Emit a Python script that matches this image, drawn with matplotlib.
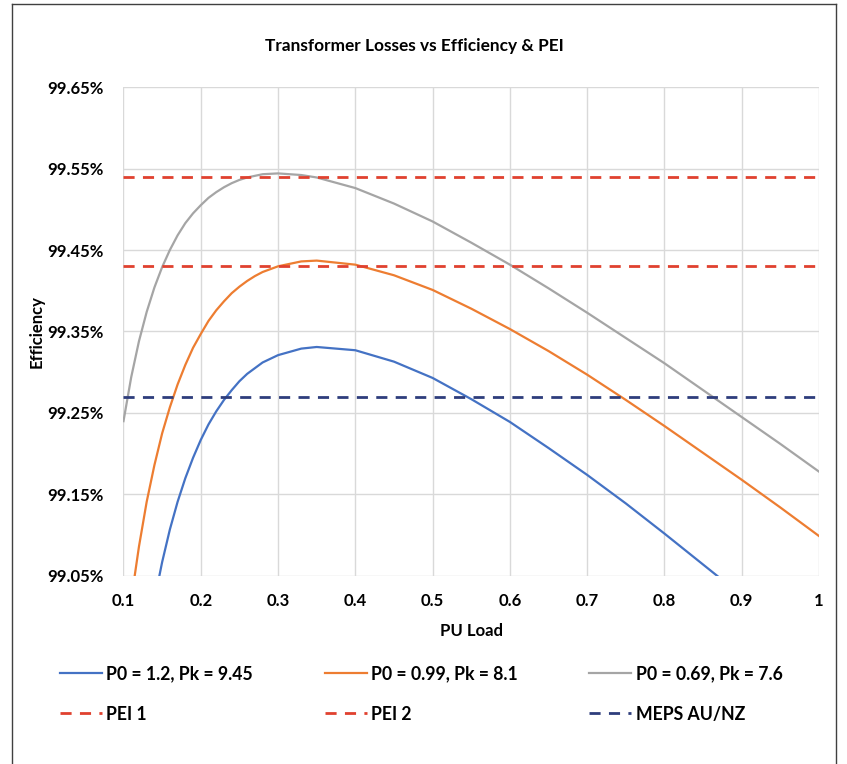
import matplotlib
matplotlib.use("Agg")
import matplotlib.pyplot as plt
from matplotlib.lines import Line2D
from matplotlib.ticker import FuncFormatter

plt.rcParams['font.family'] = ['Lato', 'DejaVu Sans']
plt.rcParams['font.weight'] = 'bold'

# PU load points
load = [0.10, 0.11, 0.12, 0.13, 0.14, 0.15, 0.16, 0.17, 0.18, 0.19, 0.20, 0.21, 0.22,
        0.23, 0.24, 0.25, 0.26, 0.27, 0.28, 0.30, 0.33, 0.35, 0.40, 0.45, 0.50, 0.55,
        0.60, 0.65, 0.70, 0.75, 0.80, 0.85, 0.90, 0.95, 1.00]

# efficiency (%) for each transformer
eff_a = [98.722, 98.819, 98.899, 98.965, 99.020, 99.067, 99.107, 99.141, 99.170, 99.195,
         99.217, 99.236, 99.252, 99.266, 99.278, 99.289, 99.298, 99.305, 99.312, 99.321,
         99.329, 99.331, 99.327, 99.313, 99.293, 99.267, 99.239, 99.207, 99.174, 99.139,
         99.102, 99.064, 99.026, 98.986, 98.946]
eff_b = [98.940, 99.021, 99.086, 99.141, 99.186, 99.225, 99.257, 99.285, 99.309, 99.330,
         99.347, 99.363, 99.376, 99.387, 99.397, 99.405, 99.412, 99.418, 99.423, 99.430,
         99.436, 99.437, 99.432, 99.419, 99.401, 99.378, 99.353, 99.326, 99.297, 99.266,
         99.234, 99.201, 99.168, 99.134, 99.099]
eff_c = [99.240, 99.294, 99.338, 99.374, 99.404, 99.429, 99.450, 99.468, 99.483, 99.495,
         99.505, 99.514, 99.521, 99.527, 99.532, 99.536, 99.539, 99.541, 99.543, 99.544,
         99.542, 99.539, 99.526, 99.507, 99.485, 99.459, 99.432, 99.403, 99.373, 99.342,
         99.311, 99.278, 99.245, 99.212, 99.178]

labels = ["P0 = 1.2, Pk = 9.45", "P0 = 0.99, Pk = 8.1", "P0 = 0.69, Pk = 7.6"]

# reference levels (%)
pei1 = 99.54
pei2 = 99.43
meps = 99.27

fig = plt.figure(figsize=(8.47, 7.64), dpi=100)
ax = fig.add_axes([0.1458, 0.2461, 0.8212, 0.64])

l1, = ax.plot(load, eff_a, color="#4472C4", lw=1.6, label=labels[0])
l2, = ax.plot(load, eff_b, color="#ED7D31", lw=1.6, label=labels[1])
l3, = ax.plot(load, eff_c, color="#A5A5A5", lw=1.6, label=labels[2])
d1 = ax.axhline(pei1, color="#E0412F", lw=2.0, dashes=(4, 3), label="PEI 1")
d2 = ax.axhline(pei2, color="#E0412F", lw=2.0, dashes=(4, 3), label="PEI 2")
d3 = ax.axhline(meps, color="#2E3D7C", lw=2.0, dashes=(4, 3), label="MEPS AU/NZ")

ax.set_xlim(0.1, 1.0)
ax.set_ylim(99.05, 99.65)
ax.set_xticks([0.1, 0.2, 0.3, 0.4, 0.5, 0.6, 0.7, 0.8, 0.9, 1.0])
ax.set_xticklabels(["0.1", "0.2", "0.3", "0.4", "0.5", "0.6", "0.7", "0.8", "0.9", "1"])
ax.set_yticks([99.05, 99.15, 99.25, 99.35, 99.45, 99.55, 99.65])
ax.yaxis.set_major_formatter(FuncFormatter(lambda v, p: "{:.2f}%".format(v)))
ax.grid(True, color="#D9D9D9", lw=1.0)
ax.set_axisbelow(True)
for s in ax.spines.values():
    s.set_visible(False)
ax.tick_params(length=0, labelsize=12, pad=12)
ax.tick_params(axis='y', pad=14)
ax.set_xlabel("PU Load", fontsize=12, fontweight='bold', labelpad=10)
ax.set_ylabel("Efficiency", fontsize=12, fontweight='bold', labelpad=2)

fig.text(0.489, 0.94, "Transformer Losses vs Efficiency & PEI", ha='center', va='center',
         fontsize=12.4, fontweight='bold')

# legend laid out as three columns of two rows
cols = [([l1, d1], 0.062), ([l2, d2], 0.375), ([l3, d3], 0.687)]
for handles, xpos in cols:
    fig.legend(handles=handles, loc='upper left', bbox_to_anchor=(xpos, 0.138),
               frameon=False, fontsize=12.7, handlelength=2.4, handletextpad=0.25,
               labelspacing=1.3, borderaxespad=0)

# chart frame
fig.add_artist(Line2D([12 / 847, 12 / 847], [0, 1 - 4 / 764], color="#404040", lw=1.0))
fig.add_artist(Line2D([12 / 847, 836 / 847], [1 - 4 / 764, 1 - 4 / 764], color="#404040", lw=1.0))
fig.add_artist(Line2D([836 / 847, 836 / 847], [0, 1 - 4 / 764], color="#404040", lw=1.0))

fig.savefig("out.png", dpi=100)
